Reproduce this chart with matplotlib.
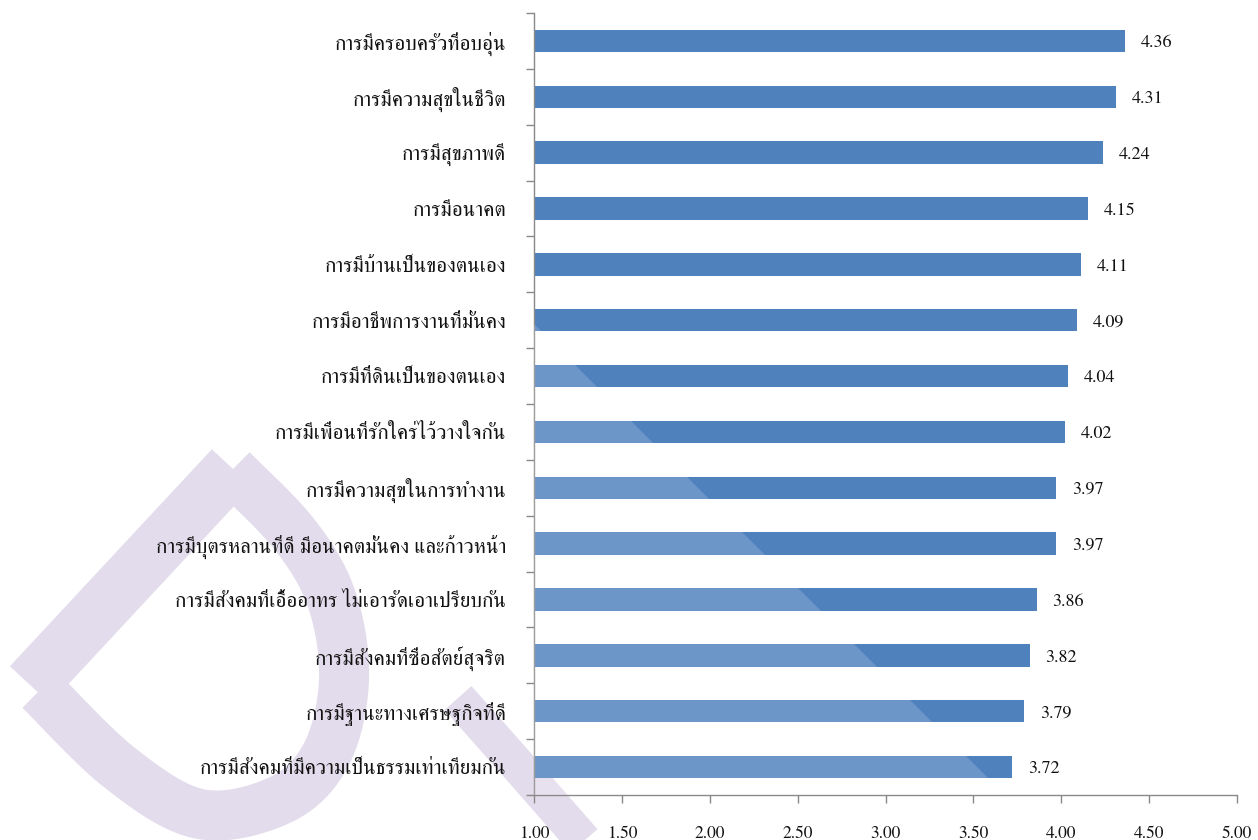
import matplotlib
matplotlib.use('Agg')
import matplotlib.pyplot as plt
import numpy as np
from matplotlib.path import Path
from matplotlib.patches import PathPatch, Polygon

categories = [
    "การมีครอบครัวที่อบอุ่น",
    "การมีความสุขในชีวิต",
    "การมีสุขภาพดี",
    "การมีอนาคต",
    "การมีบ้านเป็นของตนเอง",
    "การมีอาชีพการงานที่มั่นคง",
    "การมีที่ดินเป็นของตนเอง",
    "การมีเพื่อนที่รักใคร่ไว้วางใจกัน",
    "การมีความสุขในการทำงาน",
    "การมีบุตรหลานที่ดี มีอนาคตมั่นคง และก้าวหน้า",
    "การมีสังคมที่เอื้ออาทร ไม่เอารัดเอาเปรียบกัน",
    "การมีสังคมที่ซื่อสัตย์สุจริต",
    "การมีฐานะทางเศรษฐกิจที่ดี",
    "การมีสังคมที่มีความเป็นธรรมเท่าเทียมกัน",
]
values = [4.36, 4.31, 4.24, 4.15, 4.11, 4.09, 4.04, 4.02, 3.97, 3.97, 3.86, 3.82, 3.79, 3.72]
xticks = [1.00, 1.50, 2.00, 2.50, 3.00, 3.50, 4.00, 4.50, 5.00]

W, H = 1258, 840
fig = plt.figure(figsize=(W / 100, H / 100), dpi=100)
fig.patch.set_facecolor('white')

def px(x, y):
    return (x / W, 1 - y / H)

lav = '#e3dcec'
# watermark (decorative background logo of the scanned page)
def stroke(points, width_px):
    pts = [px(*p) for p in points]
    patch = PathPatch(Path(pts), facecolor='none', edgecolor=lav, lw=width_px * 0.72,
                      transform=fig.transFigure, zorder=0, capstyle='butt', joinstyle='round')
    fig.add_artist(patch)

def smooth(points, n=20):
    p = np.array(points, dtype=float)
    p = np.vstack([p[0], p, p[-1]])
    out = []
    for i in range(1, len(p) - 2):
        p0, p1, p2, p3 = p[i - 1], p[i], p[i + 1], p[i + 2]
        for t in np.linspace(0, 1, n, endpoint=False):
            t2, t3 = t * t, t * t * t
            out.append(0.5 * ((2 * p1) + (-p0 + p2) * t + (2 * p0 - 5 * p1 + 4 * p2 - p3) * t2
                              + (-p0 + 3 * p1 - 3 * p2 + p3) * t3))
    out.append(p[-2])
    return out

stroke([(232, 468), (30, 685)], 55)
stroke(smooth([(232, 470), (295, 535), (332, 600), (344, 680), (326, 755), (280, 800),
               (200, 814), (120, 768), (40, 690)]), 50)
stroke(smooth([(458, 698), (520, 768), (590, 848)]), 36)

ax = fig.add_axes([534 / W, 1 - 795 / H, (1237 - 534) / W, (795 - 13) / H])
ax.set_facecolor('none')

y = np.arange(len(categories))
bar_color = '#4f81bd'
ax.barh(y, np.array(values) - 1.0, left=1.0, height=0.4, color=bar_color, zorder=2)

# light overlay from the scanned page (diagonal lighter area)
ov = Polygon([px(0, 0), px(210, 0), px(1050, 840), px(0, 840)], closed=True,
             transform=fig.transFigure, facecolor='white', alpha=0.17, edgecolor='none', zorder=3)
ax.add_patch(ov)
ov.set_clip_path(ax.patch)

ax.set_xlim(1, 5)
ax.set_ylim(len(categories) - 0.5, -0.5)

serif = ['FreeSerif', 'Liberation Serif', 'DejaVu Serif']
ax.set_yticks(y)
ax.set_yticklabels(categories, family=serif, fontsize=15, color='#111111')
ax.set_yticks(np.arange(len(categories) + 1) - 0.5, minor=True)
ax.tick_params(axis='y', which='major', length=0, pad=20)
ax.tick_params(axis='y', which='minor', length=6, width=1, color='#898989', direction='out')

ax.set_xticks(xticks)
ax.set_xticklabels([f"{t:.2f}" for t in xticks], family=serif, fontsize=12.5, color='#111111')
ax.tick_params(axis='x', which='major', length=6, width=1, color='#898989', direction='out', pad=16)

for s in ['top', 'right']:
    ax.spines[s].set_visible(False)
for s in ['left', 'bottom']:
    ax.spines[s].set_color('#898989')
    ax.spines[s].set_linewidth(1.0)

for yi, v in zip(y, values):
    ax.text(v + 0.09, yi + 0.04, f"{v:.2f}", va='center', ha='left', family=serif,
            fontsize=13, color='#111111')

fig.savefig('out.png', dpi=100)
